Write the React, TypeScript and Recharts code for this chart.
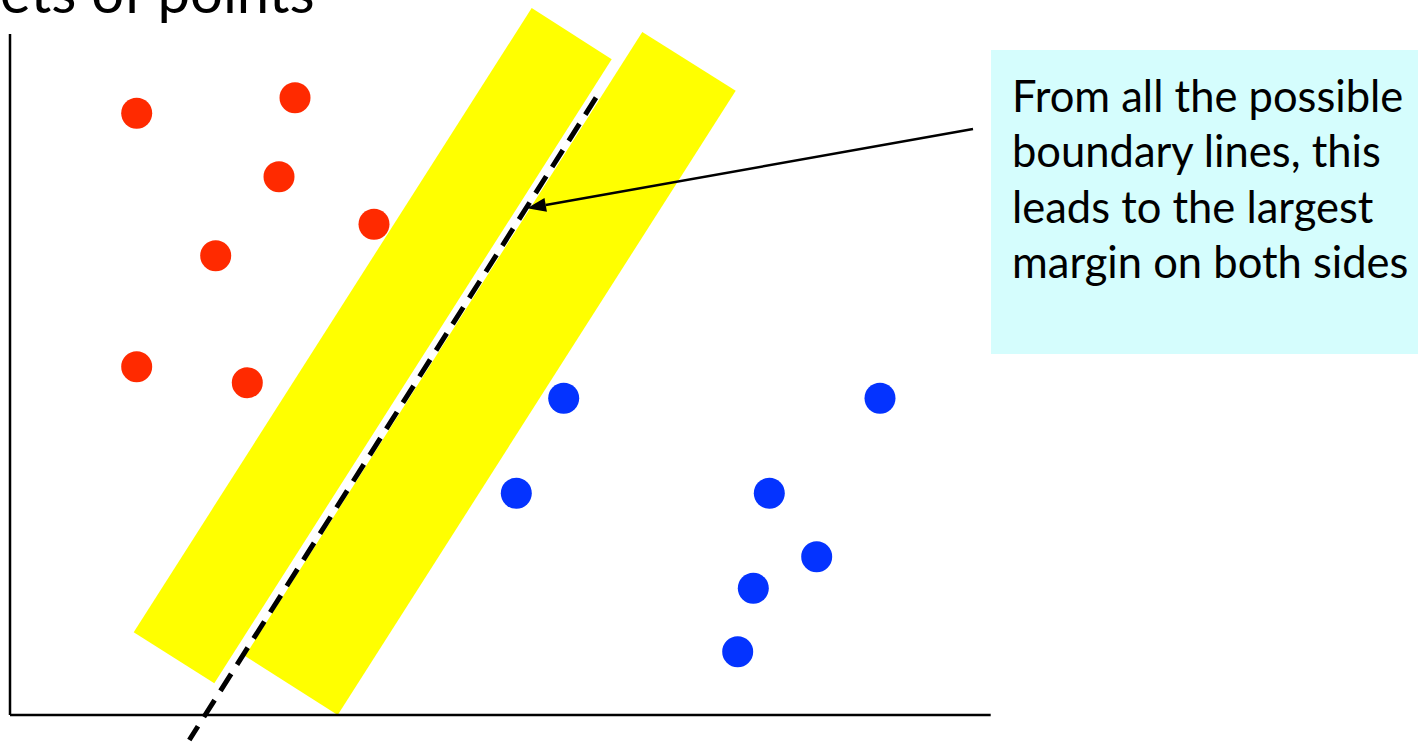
import React from "react";
import {
  ComposedChart,
  XAxis,
  YAxis,
  Scatter,
  Area,
  ReferenceLine,
  ReferenceArea,
  ReferenceDot,
} from "recharts";

// values, origin at the corner of the two axes
const redPoints = [
  { x: 126.7, y: 601.7 },
  { x: 285, y: 617.3 },
  { x: 269, y: 538.3 },
  { x: 364, y: 490.7 },
  { x: 205.7, y: 459.3 },
  { x: 126.7, y: 348.3 },
  { x: 237.3, y: 332.3 },
];

const bluePoints = [
  { x: 553.7, y: 316.7 },
  { x: 870, y: 316.7 },
  { x: 506.3, y: 221.7 },
  { x: 759.3, y: 221.7 },
  { x: 806.7, y: 158.3 },
  { x: 743.3, y: 126.7 },
  { x: 727.7, y: 63.3 },
];

// corners of the two margin bands, in order around each band
const leftBand = [
  { x: 521.7, y: 707 },
  { x: 601.7, y: 655.7 },
  { x: 204.3, y: 31.7 },
  { x: 123.7, y: 82.7 },
];
const rightBand = [
  { x: 632.3, y: 683 },
  { x: 725.7, y: 624.3 },
  { x: 327.7, y: 0 },
  { x: 235, y: 59 },
];

const boundary = [
  { x: 586, y: 617.3 },
  { x: 179.3, y: -25 },
];
const arrow = [
  { x: 963, y: 586 },
  { x: 517, y: 506.7 },
];
const xAxisLine = [
  { x: 0, y: 0 },
  { x: 980.7, y: 0 },
];
const yAxisLine = [
  { x: 0, y: 0 },
  { x: 0, y: 681 },
];
const noteBox = { x1: 981, x2: 1408, y1: 361, y2: 665 };
const noteLines = [
  "From all the possible",
  "boundary lines, this",
  "leads to the largest",
  "margin on both sides",
];
const title = { x: -10, y: 702, text: "ets of points" };

// turn band corners into [low, high] rows at each corner x for a range area
function bandRows(corners: { x: number; y: number }[]) {
  const xs = Array.from(new Set(corners.map((c) => c.x))).sort((a, b) => a - b);
  return xs.map((x) => {
    const ys: number[] = [];
    corners.forEach((p, i) => {
      const q = corners[(i + 1) % corners.length];
      if (x < Math.min(p.x, q.x) - 1e-9 || x > Math.max(p.x, q.x) + 1e-9) return;
      if (p.x === q.x) {
        ys.push(p.y, q.y);
        return;
      }
      ys.push(p.y + ((x - p.x) * (q.y - p.y)) / (q.x - p.x));
    });
    return { x, range: [Math.min(...ys), Math.max(...ys)] };
  });
}

const dot = (color: string) => (p: any) => (
  <circle cx={p.cx} cy={p.cy} r={15.5} fill={color} />
);

const ArrowShape = (p: any) => {
  const { x1, y1, x2, y2 } = p;
  const dx = x2 - x1;
  const dy = y2 - y1;
  const len = Math.hypot(dx, dy) || 1;
  const ux = dx / len;
  const uy = dy / len;
  const head = 19;
  const half = 7;
  const bx = x2 - ux * head;
  const by = y2 - uy * head;
  return (
    <g>
      <line x1={x1} y1={y1} x2={bx} y2={by} stroke="#000" strokeWidth={2.5} />
      <polygon
        points={`${x2},${y2} ${bx - uy * half},${by + ux * half} ${bx + uy * half},${by - ux * half}`}
        fill="#000"
      />
    </g>
  );
};

const NoteShape = (p: any) => (
  <g>
    <rect x={p.x} y={p.y} width={p.width} height={p.height} fill="#D5FDFD" />
    <text fontFamily="Lato" fontSize={43.5} fill="#000">
      {noteLines.map((t, i) => (
        <tspan key={i} x={p.x + 21} y={p.y + 61.7 + i * 55.5}>
          {t}
        </tspan>
      ))}
    </text>
  </g>
);

export default function App() {
  return (
    <div style={{ position: "absolute", left: 0, top: 0, background: "#fff" }}>
      <ComposedChart
        width={1418}
        height={743}
        margin={{ top: 0, right: 0, bottom: 0, left: 0 }}
      >
        <XAxis type="number" dataKey="x" domain={[-10, 1408]} hide />
        <YAxis type="number" dataKey="y" domain={[-28, 715]} hide />
        <Area
          data={bandRows(leftBand)}
          dataKey="range"
          type="linear"
          stroke="none"
          fill="#FFFF00"
          fillOpacity={1}
          dot={false}
          activeDot={false}
          isAnimationActive={false}
        />
        <Area
          data={bandRows(rightBand)}
          dataKey="range"
          type="linear"
          stroke="none"
          fill="#FFFF00"
          fillOpacity={1}
          dot={false}
          activeDot={false}
          isAnimationActive={false}
        />
        <Scatter data={redPoints} shape={dot("#FF2A00")} isAnimationActive={false} />
        <Scatter data={bluePoints} shape={dot("#0433FF")} isAnimationActive={false} />
        <ReferenceLine
          segment={xAxisLine}
          stroke="#000"
          strokeWidth={2.5}
          ifOverflow="visible"
        />
        <ReferenceLine
          segment={yAxisLine}
          stroke="#000"
          strokeWidth={2.5}
          ifOverflow="visible"
        />
        <ReferenceLine
          segment={boundary}
          stroke="#000"
          strokeWidth={5}
          strokeDasharray="20 11"
          ifOverflow="visible"
        />
        <ReferenceArea
          x1={noteBox.x1}
          x2={noteBox.x2}
          y1={noteBox.y1}
          y2={noteBox.y2}
          shape={NoteShape}
          ifOverflow="visible"
        />
        <ReferenceLine segment={arrow} shape={ArrowShape} ifOverflow="visible" />
        <ReferenceDot
          x={title.x}
          y={title.y}
          r={0}
          ifOverflow="visible"
          shape={(p: any) => (
            <text x={p.cx} y={p.cy} fontFamily="Lato" fontSize={58} fill="#000">
              {title.text}
            </text>
          )}
        />
      </ComposedChart>
    </div>
  );
}
